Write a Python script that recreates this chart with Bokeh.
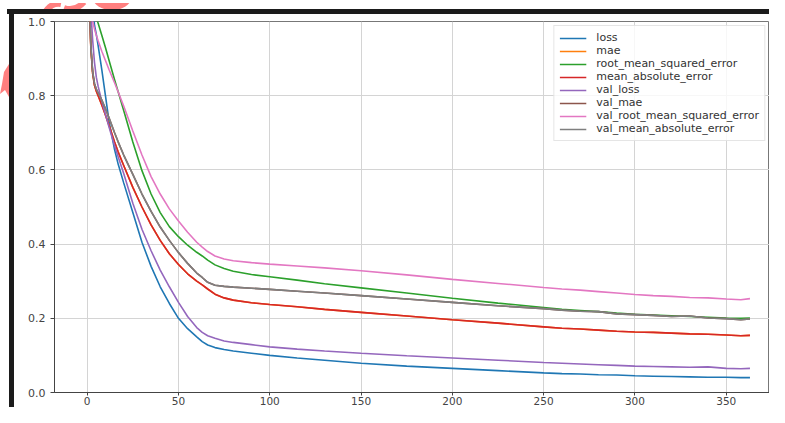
from bokeh.plotting import figure
from bokeh.models import Range1d, FixedTicker, Legend, LegendItem, PrintfTickFormatter, Div
from bokeh.layouts import column, row
from bokeh.embed import file_html
from bokeh.resources import INLINE

epochs = [0, 1, 2, 3, 4, 5, 6, 8, 10, 12, 15, 17, 20, 25, 30, 35, 40, 45, 50, 55, 60, 63, 66,
          70, 75, 80, 90, 100, 115, 130, 150, 175, 200, 225, 250, 260, 270, 280, 290, 300,
          310, 320, 330, 340, 350, 358, 363]

loss = [1.9, 1.5, 1.2, 1.05, 0.99, 0.965, 0.935, 0.87, 0.80, 0.73, 0.655, 0.615, 0.565, 0.485,
        0.405, 0.34, 0.285, 0.24, 0.20, 0.172, 0.150, 0.137, 0.128, 0.121, 0.116, 0.112, 0.106,
        0.100, 0.093, 0.087, 0.079, 0.071, 0.065, 0.059, 0.053, 0.051, 0.050, 0.048, 0.047,
        0.045, 0.044, 0.043, 0.042, 0.041, 0.041, 0.040, 0.040]

mean_absolute_error = [1.5, 1.08, 0.93, 0.86, 0.828, 0.812, 0.80, 0.775, 0.748, 0.72, 0.675,
                       0.648, 0.612, 0.553, 0.50, 0.452, 0.41, 0.374, 0.345, 0.32, 0.30, 0.29,
                       0.279, 0.265, 0.255, 0.249, 0.242, 0.237, 0.231, 0.224, 0.216, 0.206,
                       0.196, 0.187, 0.177, 0.173, 0.171, 0.168, 0.165, 0.163, 0.162, 0.160,
                       0.158, 0.157, 0.155, 0.153, 0.154]
mae = mean_absolute_error

root_mean_squared_error = [1.8, 1.4, 1.2, 1.1, 1.04, 1.012, 0.995, 0.963, 0.93, 0.895, 0.843,
                           0.81, 0.76, 0.675, 0.598, 0.535, 0.485, 0.447, 0.42, 0.397, 0.378,
                           0.368, 0.357, 0.344, 0.334, 0.327, 0.318, 0.312, 0.303, 0.293, 0.282,
                           0.268, 0.254, 0.241, 0.229, 0.224, 0.221, 0.218, 0.214, 0.211, 0.209,
                           0.207, 0.205, 0.203, 0.201, 0.200, 0.201]

val_loss = [1.8, 1.3, 1.03, 0.95, 0.89, 0.85, 0.825, 0.785, 0.75, 0.715, 0.665, 0.635, 0.59,
            0.51, 0.44, 0.382, 0.33, 0.285, 0.243, 0.205, 0.175, 0.162, 0.153, 0.146, 0.139,
            0.135, 0.129, 0.123, 0.117, 0.112, 0.106, 0.099, 0.093, 0.087, 0.081, 0.079, 0.077,
            0.075, 0.073, 0.071, 0.070, 0.069, 0.068, 0.069, 0.065, 0.064, 0.065]

val_mean_absolute_error = [1.5, 1.1, 0.935, 0.865, 0.833, 0.818, 0.808, 0.788, 0.765, 0.74,
                           0.70, 0.675, 0.64, 0.588, 0.535, 0.488, 0.446, 0.41, 0.377, 0.348,
                           0.322, 0.31, 0.297, 0.289, 0.286, 0.284, 0.281, 0.278, 0.273, 0.268,
                           0.261, 0.252, 0.243, 0.234, 0.226, 0.222, 0.219, 0.218, 0.212, 0.210,
                           0.208, 0.205, 0.206, 0.201, 0.199, 0.196, 0.198]
val_mae = val_mean_absolute_error

val_root_mean_squared_error = [1.6, 1.25, 1.08, 1.0, 0.98, 0.963, 0.948, 0.92, 0.895, 0.87,
                               0.835, 0.81, 0.772, 0.705, 0.64, 0.582, 0.535, 0.495, 0.462,
                               0.432, 0.405, 0.392, 0.38, 0.368, 0.36, 0.355, 0.35, 0.346, 0.341,
                               0.336, 0.328, 0.317, 0.305, 0.294, 0.283, 0.279, 0.276, 0.272,
                               0.268, 0.264, 0.261, 0.259, 0.256, 0.255, 0.252, 0.250, 0.253]

series_names = ["loss", "mae", "root_mean_squared_error", "mean_absolute_error", "val_loss",
                "val_mae", "val_root_mean_squared_error", "val_mean_absolute_error"]
series_values = [loss, mae, root_mean_squared_error, mean_absolute_error, val_loss, val_mae,
                 val_root_mean_squared_error, val_mean_absolute_error]
series_colors = ["#1f77b4", "#ff7f0e", "#2ca02c", "#d62728", "#9467bd", "#8c564b", "#e377c2",
                 "#7f7f7f"]

x_ticks = [0, 50, 100, 150, 200, 250, 300, 350]
y_ticks = [0.0, 0.2, 0.4, 0.6, 0.8, 1.0]

p = figure(width=755, height=393, output_backend="svg", toolbar_location=None,
           x_range=Range1d(-17.9, 373.7), y_range=Range1d(0, 1.0),
           min_border_left=40, min_border_right=0, min_border_top=7, min_border_bottom=0,
           background_fill_color="white", border_fill_color="white")

p.outline_line_color = "#777777"
p.outline_line_width = 1

for ax in (p.xaxis[0], p.yaxis[0]):
    ax.axis_line_color = "#444444"
    ax.major_tick_line_color = "#444444"
    ax.major_tick_out = 3
    ax.major_tick_in = 0
    ax.minor_tick_line_color = None
    ax.major_label_text_font = "DejaVu Sans"
    ax.major_label_text_font_size = "11px"
    ax.major_label_text_color = "#444444"
    ax.major_label_standoff = 1
p.xaxis[0].major_label_text_font_size = "10.5px"
p.yaxis[0].major_tick_out = 4
p.yaxis[0].major_label_standoff = 5

p.xaxis[0].ticker = FixedTicker(ticks=x_ticks)
p.yaxis[0].ticker = FixedTicker(ticks=y_ticks)
p.yaxis[0].formatter = PrintfTickFormatter(format="%.1f")
p.xgrid[0].ticker = FixedTicker(ticks=x_ticks)
p.ygrid[0].ticker = FixedTicker(ticks=y_ticks)
for g in (p.xgrid[0], p.ygrid[0]):
    g.grid_line_color = "#d4d4d4"
    g.grid_line_width = 1

items = []
for name, vals, col in zip(series_names, series_values, series_colors):
    r = p.line(epochs, vals, line_color=col, line_width=1.6)
    items.append(LegendItem(label=name, renderers=[r]))

legend = Legend(items=items, location="top_right")
legend.label_text_font = "DejaVu Sans"
legend.label_text_font_size = "11px"
legend.label_text_color = "#333333"
legend.label_height = 10
legend.glyph_height = 10
legend.glyph_width = 27
legend.label_standoff = 10
legend.spacing = 0
legend.padding = 5
legend.margin = 4
legend.border_line_color = "#cccccc"
legend.border_line_width = 1
legend.background_fill_color = "white"
legend.background_fill_alpha = 0.8
p.add_layout(legend, "center")

# decorative salmon pen marks outside the chart (as in the screenshot)
deco_top = Div(
    text=('<svg width="769" height="9" style="display:block">'
          '<path d="M 44 11 Q 51 -1 61 1" stroke="#ff7f7f" stroke-width="6" fill="none"/>'
          '<path d="M 64 5 Q 75 9 84 -1" stroke="#ff7f7f" stroke-width="6" fill="none"/>'
          '<ellipse cx="112" cy="-5" rx="19" ry="12" fill="#ff7f7f"/>'
          '</svg>'),
    width=769, height=9, margin=(0, 0, 0, 0))
deco_left = Div(
    text=('<svg width="9" height="393" style="display:block">'
          '<polygon points="9,50 4,58 2,70 0,80 5,76 9,83" fill="#ff7f7f"/>'
          '</svg>'),
    width=9, height=393, margin=(0, 0, 0, 0))

top_bar = Div(text="", width=762, height=5, margin=(0, 0, 0, 7),
              styles={"background-color": "#1b1b1b"})
left_bar = Div(text="", width=5, height=393, margin=(0, 0, 0, 0),
               styles={"background-color": "#1b1b1b"})
page = column(deco_top, top_bar, row(deco_left, left_bar, p, spacing=0), spacing=0)

open("out.html", "w").write(file_html(page, INLINE))
